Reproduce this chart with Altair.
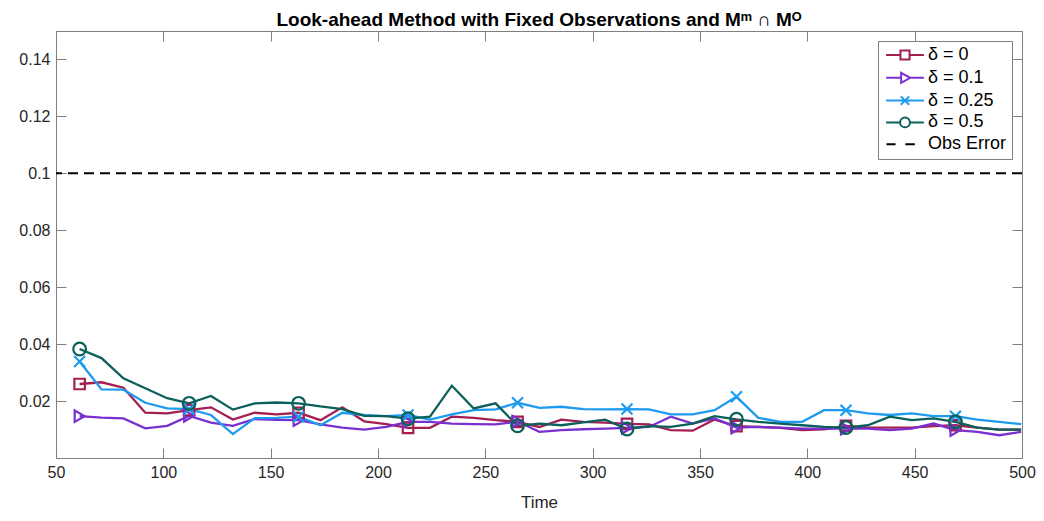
import altair as alt
import pandas as pd

# ---------------- data ----------------
time = [61.0, 71.2, 81.4, 91.6, 101.8, 112.0, 122.2, 132.4, 142.6, 152.8,
        163.0, 173.2, 183.4, 193.6, 203.8, 214.0, 224.2, 234.4, 244.6, 254.8,
        265.0, 275.2, 285.4, 295.6, 305.8, 316.0, 326.2, 336.4, 346.6, 356.8,
        367.0, 377.2, 387.4, 397.6, 407.8, 418.0, 428.2, 438.4, 448.6, 458.8,
        469.0, 479.2, 489.4, 499.6]

delta_0 = [0.0260, 0.0266, 0.0247, 0.0159, 0.0157, 0.0168, 0.0178, 0.0135, 0.0159, 0.0153,
           0.0159, 0.0133, 0.0178, 0.0129, 0.0119, 0.0106, 0.0106, 0.0145, 0.0141, 0.0133,
           0.0127, 0.0109, 0.0135, 0.0127, 0.0124, 0.0120, 0.0118, 0.0098, 0.0096, 0.0135,
           0.0112, 0.0109, 0.0106, 0.0098, 0.0101, 0.0113, 0.0107, 0.0107, 0.0107, 0.0112,
           0.0115, 0.0107, 0.0100, 0.0100]

delta_01 = [0.0147, 0.0142, 0.0139, 0.0104, 0.0113, 0.0148, 0.0124, 0.0113, 0.0137, 0.0134,
            0.0133, 0.0118, 0.0107, 0.0100, 0.0109, 0.0127, 0.0127, 0.0121, 0.0119, 0.0118,
            0.0128, 0.0092, 0.0098, 0.0101, 0.0103, 0.0106, 0.0109, 0.0145, 0.0121, 0.0139,
            0.0107, 0.0109, 0.0107, 0.0103, 0.0103, 0.0103, 0.0103, 0.0098, 0.0103, 0.0121,
            0.0098, 0.0092, 0.0080, 0.0092]

delta_025 = [0.0339, 0.0241, 0.0240, 0.0194, 0.0174, 0.0172, 0.0151, 0.0084, 0.0140, 0.0141,
             0.0145, 0.0115, 0.0159, 0.0151, 0.0147, 0.0151, 0.0135, 0.0153, 0.0168, 0.0171,
             0.0194, 0.0176, 0.0180, 0.0172, 0.0171, 0.0172, 0.0171, 0.0153, 0.0153, 0.0168,
             0.0215, 0.0141, 0.0127, 0.0127, 0.0168, 0.0168, 0.0157, 0.0151, 0.0157, 0.0147,
             0.0147, 0.0135, 0.0127, 0.0119]

delta_05 = [0.0383, 0.0351, 0.0280, 0.0245, 0.0210, 0.0192, 0.0218, 0.0170, 0.0192, 0.0195,
            0.0192, 0.0181, 0.0172, 0.0148, 0.0147, 0.0138, 0.0145, 0.0254, 0.0174, 0.0192,
            0.0113, 0.0121, 0.0115, 0.0125, 0.0135, 0.0102, 0.0112, 0.0109, 0.0121, 0.0147,
            0.0136, 0.0127, 0.0121, 0.0115, 0.0109, 0.0107, 0.0115, 0.0145, 0.0133, 0.0139,
            0.0127, 0.0107, 0.0100, 0.0100]

marker_idx = [0, 5, 10, 15, 20, 25, 30, 35, 40]
obs_error = [0.1]

series_names = ["δ = 0", "δ = 0.1", "δ = 0.25", "δ = 0.5"]
legend_names = series_names + ["Obs Error"]
colors = ["#A31F52", "#7A30D0", "#1E9BEF", "#0B605A", "#000000"]

x_ticks = [50, 100, 150, 200, 250, 300, 350, 400, 450, 500]
y_ticks = [0.02, 0.04, 0.06, 0.08, 0.10, 0.12, 0.14]

# marker shapes (plot) and legend symbols (line + marker)
plot_shapes = ["square", "triangle-right", "M-1,-1L1,1M-1,1L1,-1", "circle"]
plot_sizes = [110, 130, 120, 160]
legend_paths = [
    "M-2.7,0L-0.65,0M0.65,0L2.7,0M-0.65,-0.65L0.65,-0.65L0.65,0.65L-0.65,0.65Z",
    "M-2.7,0L-0.55,0M0.75,0L2.7,0M-0.55,-0.72L0.75,0L-0.55,0.72Z",
    "M-2.7,0L2.7,0M-0.6,-0.6L0.6,0.6M-0.6,0.6L0.6,-0.6",
    "M-2.7,0L-0.7,0M0.7,0L2.7,0M0.7,0A0.7,0.7,0,1,1,-0.7,0A0.7,0.7,0,1,1,0.7,0",
    "M-2.65,0L-1.35,0M0.05,0L1.4,0",
]

all_vals = [delta_0, delta_01, delta_025, delta_05]
rows = []
for name, vals in zip(series_names, all_vals):
    for i, (t, v) in enumerate(zip(time, vals)):
        rows.append({"t": t, "v": v, "series": name, "idx": i})
df = pd.DataFrame(rows)
obs_df = pd.DataFrame({"obs": obs_error})
legend_df = pd.DataFrame({"series": legend_names})

# ---------------- scales / axes ----------------
FONT = "Liberation Sans"
x_scale = alt.Scale(domain=[50, 500], nice=False, zero=False)
y_scale = alt.Scale(domain=[0, 0.15], nice=False, zero=False)
color_scale = alt.Scale(domain=legend_names, range=colors)
shape_scale = alt.Scale(domain=legend_names, range=legend_paths)

axis_common = dict(offset=-10, tickSize=10, domain=False, grid=False,
                   tickColor="#7f7f7f", tickWidth=1, labelFont=FONT,
                   labelFontSize=16, labelColor="#262626", labelPadding=6)

x_bottom = alt.Axis(values=x_ticks, title="Time", titleFont=FONT, titleFontSize=17,
                    titleFontWeight="normal", titleColor="#262626", titlePadding=14,
                    labelFlush=False, **axis_common)
x_top = alt.Axis(values=x_ticks, orient="top", labels=False, title=None, **axis_common)
y_left = alt.Axis(values=y_ticks, format=".2~f", title=None, labelFlush=False, **axis_common)
y_right = alt.Axis(values=y_ticks, orient="right", labels=False, title=None, **axis_common)

leg = alt.Legend(title=None, orient="top-right", offset=10, fillColor="white",
                 strokeColor="#7f7f7f", padding=5, labelFont=FONT, labelFontSize=18,
                 labelColor="black", symbolSize=196, symbolStrokeWidth=2,
                 symbolOffset=13, labelOffset=14, rowPadding=3.8,
                 symbolFillColor="transparent")

# legend-only layer (first, so its hollow point symbols define the legend);
# no rows survive the filter, so it draws nothing in the plot
legend_layer = alt.Chart(legend_df).transform_filter("false").mark_point(
    filled=False, strokeWidth=2, opacity=1).encode(
    color=alt.Color("series:N", scale=color_scale, legend=leg),
    shape=alt.Shape("series:N", scale=shape_scale, legend=leg),
)

lines = alt.Chart(df).mark_line(strokeWidth=2.3, clip=True).encode(
    x=alt.X("t:Q", scale=x_scale, axis=x_bottom),
    y=alt.Y("v:Q", scale=y_scale, axis=y_left),
    color=alt.Color("series:N", scale=color_scale, legend=leg),
    order=alt.Order("idx:Q"),
)

markers = []
for j, name in enumerate(series_names):
    m = alt.Chart(df).transform_filter(
        alt.datum.series == name
    ).transform_filter(
        alt.FieldOneOfPredicate(field="idx", oneOf=marker_idx)
    ).mark_point(shape=plot_shapes[j], size=plot_sizes[j], filled=False,
                 strokeWidth=2.2, color=colors[j], opacity=1).encode(
        x=alt.X("t:Q", scale=x_scale, axis=x_top if j == 0 else None),
        y=alt.Y("v:Q", scale=y_scale, axis=None),
    )
    markers.append(m)

rule = alt.Chart(obs_df).mark_rule(color="black", strokeWidth=2, strokeDash=[10, 6]).encode(
    y=alt.Y("obs:Q", scale=y_scale, axis=y_right),
)

chart = alt.layer(legend_layer, lines, *markers, rule).resolve_axis(
    x="independent", y="independent"
).properties(
    width=966, height=427,
    title=alt.TitleParams(
        "Look-ahead Method with Fixed Observations and Mᵐ ∩ Mᴼ",
        font=FONT, fontSize=19, fontWeight="bold", color="black",
        anchor="middle", offset=1),
    autosize=alt.AutoSizeParams(type="none"),
    padding={"left": 48, "top": 23, "right": 14, "bottom": 55},
).configure_view(stroke="#7f7f7f", strokeWidth=1)

chart.save("out.html", embed_options={"renderer": "svg", "actions": False})
